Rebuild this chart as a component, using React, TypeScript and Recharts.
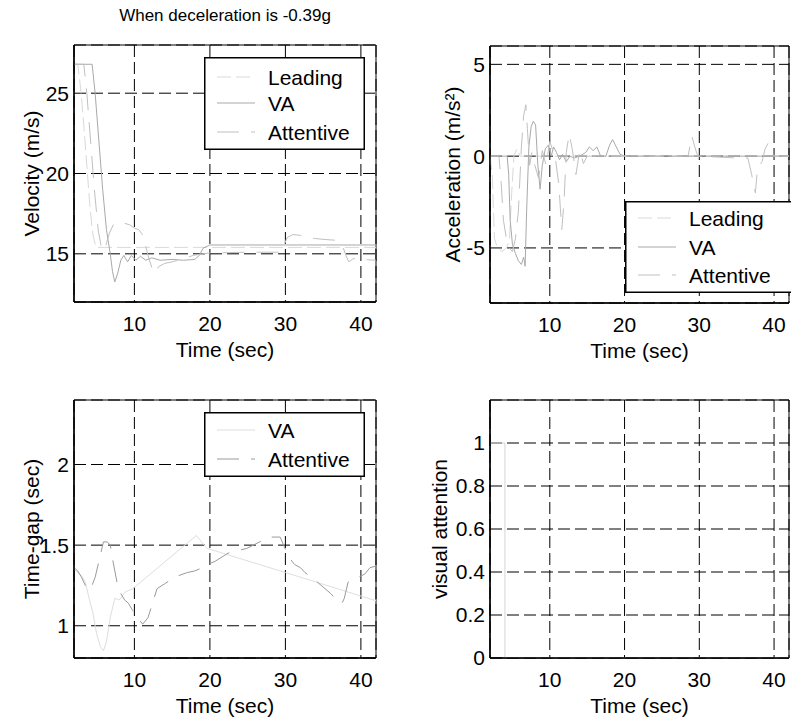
import React from 'react';
import { LineChart, Line, XAxis, YAxis, CartesianGrid, ReferenceArea, Legend } from 'recharts';

const FONT = '"Liberation Sans", Arial, Helvetica, sans-serif';

// ---------- ticks / domains ----------
const timeDomain: [number, number] = [2, 42];
const timeTicks = [10, 20, 30, 40];
const velDomain: [number, number] = [12, 28];
const velTicks = [15, 20, 25];
const accDomain: [number, number] = [-8, 6];
const accTicks = [-5, 0, 5];
const gapDomain: [number, number] = [0.8, 2.4];
const gapTicks = [1, 1.5, 2];
const attnDomain: [number, number] = [0, 1.2];
const attnTicks = [0, 0.2, 0.4, 0.6, 0.8, 1];

// ---------- data: [time (s), value] ----------
const velLeading: [number, number][] = [
  [2, 26.8], [2.5, 26.8], [2.9, 25.2], [3.3, 23], [3.7, 20.5], [4.1, 18], [4.5, 16.2], [4.9, 15.4], [6, 15.4], [42, 15.4],
];
const velVA: [number, number][] = [
  [2, 26.8], [4.4, 26.8], [4.8, 25], [5.3, 22], [5.8, 19], [6.3, 16.5], [6.8, 15], [7.1, 13.9], [7.4, 13.25], [7.8, 13.8],
  [8.2, 14.6], [8.6, 14.9], [9.1, 14.5], [9.6, 14.9], [10.2, 14.6], [10.8, 14.85], [11.5, 14.6], [12.3, 14.75], [13.4, 14.6],
  [15, 14.65], [16.5, 14.6], [18, 14.65], [18.6, 14.9], [19.1, 15.35], [20, 15.55], [30, 15.55], [42, 15.55],
];
const velAttentive: [number, number][] = [
  [2, 26.8], [3.3, 26.8], [3.7, 25], [4.2, 22], [4.7, 19], [5.2, 16.5], [5.7, 15.2], [6.2, 15.5], [6.7, 16.3], [7.2, 16.8],
  [8, 17.0], [8.7, 16.9], [9.4, 16.8], [10, 16.6], [10.6, 16.5], [11.2, 16.1], [11.8, 14.9], [12.4, 14.0], [12.7, 13.8],
  [13.2, 14.2], [14, 14.4], [15, 14.5], [16.5, 14.7], [17.8, 14.9], [19, 15.0], [20, 15.05], [25, 15.1], [29.5, 15.1],
  [30.2, 16.0], [31, 16.2], [32, 16.15], [33, 16.0], [34, 15.95], [35, 15.9], [36.5, 15.85], [37.5, 15.6], [38, 14.9],
  [38.4, 14.5], [39, 14.7], [40, 14.65], [42, 14.6],
];

const accLeading: [number, number][] = [
  [2, 0], [2.3, -1], [2.6, -4.5], [3, -5], [3.6, -5.2], [4.2, -5], [4.6, -4.6], [4.9, -2], [5.2, 0], [5.6, 0.4], [6, 0], [42, 0],
];
const accVA: [number, number][] = [
  [2, 0], [4.3, 0], [4.5, -1], [4.7, -3.5], [5.0, -4.8], [5.4, -5.3], [5.8, -5.7], [6.2, -5.9], [6.5, -5.5], [6.7, -6.0],
  [6.9, -3], [7.2, 0.5], [7.5, 1.6], [7.8, 1.9], [8.1, 1.7], [8.4, -0.5], [8.7, -1.8], [9.0, -0.5], [9.4, 0.4], [9.8, 0.6],
  [10.2, 0], [10.5, 0.5], [10.9, 0.2], [11.3, -0.2], [11.7, 0.1], [12.2, -0.3], [12.7, 0], [13.3, -0.1], [14, 0], [14.8, 0.2],
  [15.3, 0.5], [15.8, 0.3], [16.3, 0.5], [16.8, 0], [17.5, 0], [18, 0.6], [18.4, 0.9], [18.9, 0.5], [19.4, 0.1], [20, 0], [42, 0],
];
const accAttentive: [number, number][] = [
  [2, 0], [3.2, 0], [3.5, -1.5], [3.8, -3.5], [4.2, -4.5], [4.6, -5], [5.0, -5.2], [5.4, -4.5], [5.8, -3], [6.2, 0.5],
  [6.5, 2.2], [6.8, 2.8], [7.0, 1.5], [7.3, -0.5], [7.6, 0.2], [8, -0.5], [8.5, -1.2], [9, 0.3], [9.5, -0.5], [10, 0.8],
  [10.4, 0.3], [10.8, -0.3], [11.2, -1.5], [11.6, -4.0], [11.9, -2.5], [12.2, 0.2], [12.6, 1.2], [13, 0.4], [13.5, -1],
  [14, 0.3], [14.5, -0.4], [15, 0], [16, 0], [28.5, 0], [29, 1.1], [29.4, 0.5], [29.8, 0], [35, -0.1], [36.5, -0.1],
  [37, -1.0], [37.5, -2.0], [37.8, -0.6], [38.4, -0.3], [38.8, 0.4], [39.2, 0.7], [39.6, 0.3], [40, 0], [42, 0],
];

const gapVA: [number, number][] = [
  [2, 1.35], [3, 1.31], [3.5, 1.27], [4, 1.17], [4.5, 1.08], [5, 0.95], [5.5, 0.87], [5.9, 0.845], [6.3, 0.9], [6.8, 1.05],
  [7.4, 1.17], [8, 1.16], [8.8, 1.21], [9.8, 1.23], [18.2, 1.56], [19.6, 1.48], [30, 1.33], [42, 1.155],
];
const gapAttentive: [number, number][] = [
  [2, 1.36], [2.5, 1.34], [3, 1.3], [3.5, 1.25], [3.9, 1.22], [4.3, 1.24], [4.8, 1.3], [5.3, 1.4], [5.9, 1.52], [6.4, 1.52],
  [6.8, 1.5], [7.2, 1.39], [7.7, 1.27], [8.2, 1.2], [8.7, 1.16], [9.2, 1.14], [9.7, 1.1], [10.4, 1.05], [11.1, 1.01],
  [11.8, 1.05], [12.4, 1.14], [13, 1.23], [14, 1.26], [15, 1.29], [15.8, 1.31], [17, 1.33], [18, 1.34], [19, 1.36],
  [19.7, 1.38], [20.7, 1.4], [22.4, 1.45], [24.9, 1.48], [26.6, 1.52], [27.5, 1.55], [29.3, 1.55], [30.4, 1.43],
  [31.2, 1.38], [32, 1.36], [32.6, 1.33], [34, 1.28], [36, 1.2], [37, 1.15], [37.5, 1.14], [37.8, 1.17], [38.3, 1.27],
  [39.6, 1.3], [40.5, 1.32], [41.2, 1.36], [42, 1.37],
];

const attnVA: [number, number][] = [
  [2, 1], [4, 1], [4, 0], [42, 0],
];

// ---------- series styles ----------
type Series = { name: string; data: [number, number][]; color: string; dash?: string };

const velSeries: Series[] = [
  { name: 'Leading', data: velLeading, color: '#d9d9d9', dash: '14 5' },
  { name: 'VA', data: velVA, color: '#a9a9a9' },
  { name: 'Attentive', data: velAttentive, color: '#c0c0c0', dash: '22 12' },
];
const accSeries: Series[] = [
  { name: 'Leading', data: accLeading, color: '#d9d9d9', dash: '14 5' },
  { name: 'VA', data: accVA, color: '#a9a9a9' },
  { name: 'Attentive', data: accAttentive, color: '#c0c0c0', dash: '22 12' },
];
const gapSeries: Series[] = [
  { name: 'VA', data: gapVA, color: '#dedede' },
  { name: 'Attentive', data: gapAttentive, color: '#9a9a9a', dash: '22 12' },
];
const attnSeries: Series[] = [
  { name: 'VA', data: attnVA, color: '#d4d4d4' },
];

const toPts = (arr: [number, number][]) => arr.map(([t, v]) => ({ t, v }));

type LegendCfg = { x: number; y: number; w: number; h: number; rows: number[] };

function LegendBox({ items, cfg }: { items: Series[]; cfg: LegendCfg }) {
  return (
    <svg width={cfg.w} height={cfg.h} style={{ display: 'block', overflow: 'visible' }}>
      <rect x={0.75} y={0.75} width={cfg.w - 1.5} height={cfg.h - 1.5} fill="#fff" stroke="#000" strokeWidth={1.5} />
      {items.map((s, i) => (
        <g key={s.name}>
          <line x1={13} x2={51} y1={cfg.rows[i]} y2={cfg.rows[i]} stroke={s.color} strokeWidth={1} strokeDasharray={s.dash} />
          <text x={64} y={cfg.rows[i] + 7.5} fontSize={21} fontFamily={FONT} fill="#000">{s.name}</text>
        </g>
      ))}
    </svg>
  );
}

type PanelProps = {
  left: number; top: number; width: number; height: number;
  mt: number; mr: number; yWidth: number;
  yDomain: [number, number]; yTicks: number[]; yLabel: string;
  series: Series[]; legend?: LegendCfg;
};

const tickStyle = { fill: '#000', fontSize: 21, fontFamily: FONT };

function Panel(p: PanelProps) {
  return (
    <div style={{ position: 'absolute', left: p.left, top: p.top }}>
      <LineChart width={p.width} height={p.height} margin={{ top: p.mt, right: p.mr, bottom: 18, left: 0 }}>
        <CartesianGrid stroke="#000" strokeDasharray="12 5" />
        <XAxis
          dataKey="t" type="number" domain={timeDomain} ticks={timeTicks} interval={0} allowDataOverflow
          height={60} tickLine={false} tickSize={0} tickMargin={14}
          axisLine={{ stroke: '#000', strokeWidth: 1.5 }} tick={tickStyle}
          label={{ value: 'Time (sec)', position: 'insideBottom', offset: 5, fill: '#000', fontSize: 21, fontFamily: FONT }}
        />
        <YAxis
          type="number" domain={p.yDomain} ticks={p.yTicks} interval={0} allowDataOverflow
          width={p.yWidth} tickLine={false} tickSize={0} tickMargin={5}
          axisLine={{ stroke: '#000', strokeWidth: 1.5 }} tick={tickStyle}
          label={{ value: p.yLabel, angle: -90, position: 'center', fill: '#000', fontSize: 21, fontFamily: FONT }}
        />
        <ReferenceArea x1={timeDomain[0]} x2={timeDomain[1]} y1={p.yDomain[0]} y2={p.yDomain[1]} fill="none" stroke="#000" strokeWidth={1} ifOverflow="visible" />
        {p.series.map((s) => (
          <Line
            key={s.name} data={toPts(s.data)} dataKey="v" name={s.name} type="linear"
            dot={false} activeDot={false} stroke={s.color} strokeWidth={1} strokeDasharray={s.dash}
            isAnimationActive={false}
          />
        ))}
        {p.legend && (
          <Legend
            verticalAlign="middle" align="center" layout="horizontal"
            wrapperStyle={{ position: 'absolute', left: p.legend.x, top: p.legend.y, width: p.legend.w, height: p.legend.h, margin: 0, padding: 0 }}
            content={() => <LegendBox items={p.series} cfg={p.legend as LegendCfg} />}
          />
        )}
      </LineChart>
    </div>
  );
}

export default function App() {
  return (
    <div style={{ position: 'absolute', left: 0, top: 0, width: 791, height: 728, overflow: 'hidden', background: '#fff', fontFamily: FONT }}>
      <Panel left={-10} top={0} width={410} height={380} mt={45} mr={24} yWidth={84}
        yDomain={velDomain} yTicks={velTicks} yLabel="Velocity (m/s)" series={velSeries}
        legend={{ x: 214, y: 57, w: 161, h: 93, rows: [20, 46, 75] }} />
      <Panel left={415} top={0} width={376} height={381} mt={46} mr={2} yWidth={75}
        yDomain={accDomain} yTicks={accTicks} yLabel="Acceleration (m/s²)" series={accSeries}
        legend={{ x: 210, y: 201, w: 170, h: 92, rows: [17, 46, 74] }} />
      <Panel left={-10} top={355} width={410} height={381} mt={45} mr={24} yWidth={84}
        yDomain={gapDomain} yTicks={gapTicks} yLabel="Time-gap (sec)" series={gapSeries}
        legend={{ x: 214, y: 57, w: 161, h: 65, rows: [18, 47] }} />
      <Panel left={390} top={355} width={401} height={381} mt={45} mr={2} yWidth={100}
        yDomain={attnDomain} yTicks={attnTicks} yLabel="visual attention" series={attnSeries} />
      <svg style={{ position: 'absolute', left: 0, top: 0 }} width={450} height={30}>
        <text x={225} y={21} textAnchor="middle" fontSize={17} fontFamily={FONT} fill="#000">When deceleration is -0.39g</text>
      </svg>
    </div>
  );
}
